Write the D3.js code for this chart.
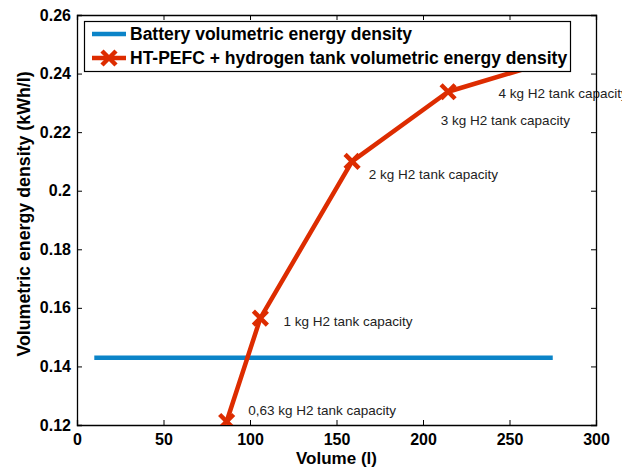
<!DOCTYPE html>
<html><head><meta charset="utf-8">
<script src="https://cdn.jsdelivr.net/npm/d3@7"></script>
<style>body{margin:0;background:#fff}svg{display:block}</style>
</head><body>
<script>
const xTicks = [0, 50, 100, 150, 200, 250, 300];
const yTicks = [0.12, 0.14, 0.16, 0.18, 0.2, 0.22, 0.24, 0.26];
const batteryX = [10, 275];
const batteryY = [0.143, 0.143];
const fcVolume = [86.5, 106, 159, 214.5, 275];
const fcDensity = [0.1212, 0.1565, 0.21, 0.2338, 0.2445];
const pointLabels = ["0,63 kg H2 tank capacity", "1 kg H2 tank capacity", "2 kg H2 tank capacity", "3 kg H2 tank capacity", "4 kg H2 tank capacity"];
const labelX = [99, 119.3, 168.7, 210.3, 243.7];
const labelY = [0.1235, 0.1537, 0.2041, 0.2225, 0.2318];
const seriesNames = ["Battery volumetric energy density", "HT-PEFC + hydrogen tank volumetric energy density"];
const colors = ["#0b84c8", "#dd2c00"];

const W = 638, H = 469;
const m = {l: 77, r: 42, t: 15, b: 45};
const svg = d3.select("body").append("svg").attr("width", W).attr("height", H);
const x = d3.scaleLinear().domain([0, 300]).range([m.l, W - m.r]);
const y = d3.scaleLinear().domain([0.12, 0.26]).range([H - m.b + 1, m.t]);
const font = "Liberation Sans, Arial, Helvetica, sans-serif";

svg.append("clipPath").attr("id", "c").append("rect")
  .attr("x", m.l).attr("y", m.t).attr("width", x(300) - m.l).attr("height", y(0.12) - m.t);
svg.append("clipPath").attr("id", "c2").append("rect")
  .attr("x", 0).attr("y", 0).attr("width", 622).attr("height", H);

const g = svg.append("g");
const axB = d3.axisBottom(x).tickValues(xTicks).tickSize(-5).tickPadding(9).tickFormat(d3.format("d"));
const axT = d3.axisTop(x).tickValues(xTicks).tickSize(-5).tickFormat("");
const axL = d3.axisLeft(y).tickValues(yTicks).tickSize(-5).tickPadding(6).tickFormat(d => String(+d.toFixed(2)));
const axR = d3.axisRight(y).tickValues(yTicks).tickSize(-5).tickFormat("");

function style(sel) {
  sel.select(".domain").attr("stroke", "#000").attr("stroke-width", 1.3);
  sel.selectAll(".tick line").attr("stroke", "#000").attr("stroke-width", 1);
  sel.selectAll(".tick text").attr("font-family", font).attr("font-weight", "bold").attr("font-size", 16).attr("fill", "#000");
}
g.append("g").attr("transform", `translate(0,${y(0.12)})`).call(axB).call(style);
g.append("g").attr("transform", `translate(0,${y(0.26)})`).call(axT).call(style);
g.append("g").attr("transform", `translate(${x(0)},0)`).call(axL).call(style);

const line = d3.line().x(d => x(d[0])).y(d => y(d[1]));
const plot = svg.append("g").attr("clip-path", "url(#c)");
const battery = batteryX.map((v, i) => [v, batteryY[i]]);
plot.append("path").datum(battery).attr("d", line).attr("fill", "none")
  .attr("stroke", colors[0]).attr("stroke-width", 4.5);

const fc = fcVolume.map((v, i) => [v, fcDensity[i]]);
plot.append("path").datum(fc).attr("d", line).attr("fill", "none")
  .attr("stroke", colors[1]).attr("stroke-width", 4.5).attr("stroke-linejoin", "round");
const s = 7;
plot.selectAll("path.mk").data(fc).join("path").attr("class", "mk")
  .attr("d", d => `M${x(d[0]) - s},${y(d[1]) - s}L${x(d[0]) + s},${y(d[1]) + s}M${x(d[0]) - s},${y(d[1]) + s}L${x(d[0]) + s},${y(d[1]) - s}`)
  .attr("stroke", colors[1]).attr("stroke-width", 4.5).attr("fill", "none");

svg.append("g").attr("clip-path", "url(#c2)").selectAll("text.pl").data(pointLabels).join("text").attr("class", "pl")
  .attr("x", (d, i) => x(labelX[i])).attr("y", (d, i) => y(labelY[i]))
  .attr("font-family", font).attr("font-size", 13.5).attr("fill", "#222").text(d => d);

// right axis drawn over labels
svg.append("g").attr("transform", `translate(${x(300)},0)`).call(axR).call(style);

svg.append("text").attr("x", x(150)).attr("y", 464).attr("text-anchor", "middle")
  .attr("font-family", font).attr("font-weight", "bold").attr("font-size", 17).text("Volume (l)");
svg.append("text").attr("transform", `translate(30,214) rotate(-90)`)
  .attr("text-anchor", "middle").attr("font-family", font).attr("font-weight", "bold").attr("font-size", 17.8)
  .text("Volumetric energy density (kWh/l)");

const lg = svg.append("g");
lg.append("rect").attr("x", 84.5).attr("y", 21.5).attr("width", 486).attr("height", 50)
  .attr("fill", "#fff").attr("stroke", "#000").attr("stroke-width", 1.2);
seriesNames.forEach((n, i) => {
  const yy = 34 + i * 24;
  lg.append("line").attr("x1", 92).attr("x2", 126).attr("y1", yy).attr("y2", yy)
    .attr("stroke", colors[i]).attr("stroke-width", 4.5);
  if (i === 1) {
    lg.append("path").attr("d", `M${109 - s},${yy - s}L${109 + s},${yy + s}M${109 - s},${yy + s}L${109 + s},${yy - s}`)
      .attr("stroke", colors[1]).attr("stroke-width", 4.5);
  }
  lg.append("text").attr("x", 130).attr("y", yy + 6).attr("font-family", font).attr("font-weight", "bold")
    .attr("font-size", 17.5).attr("fill", "#000").text(n);
});
</script>
</body></html>
